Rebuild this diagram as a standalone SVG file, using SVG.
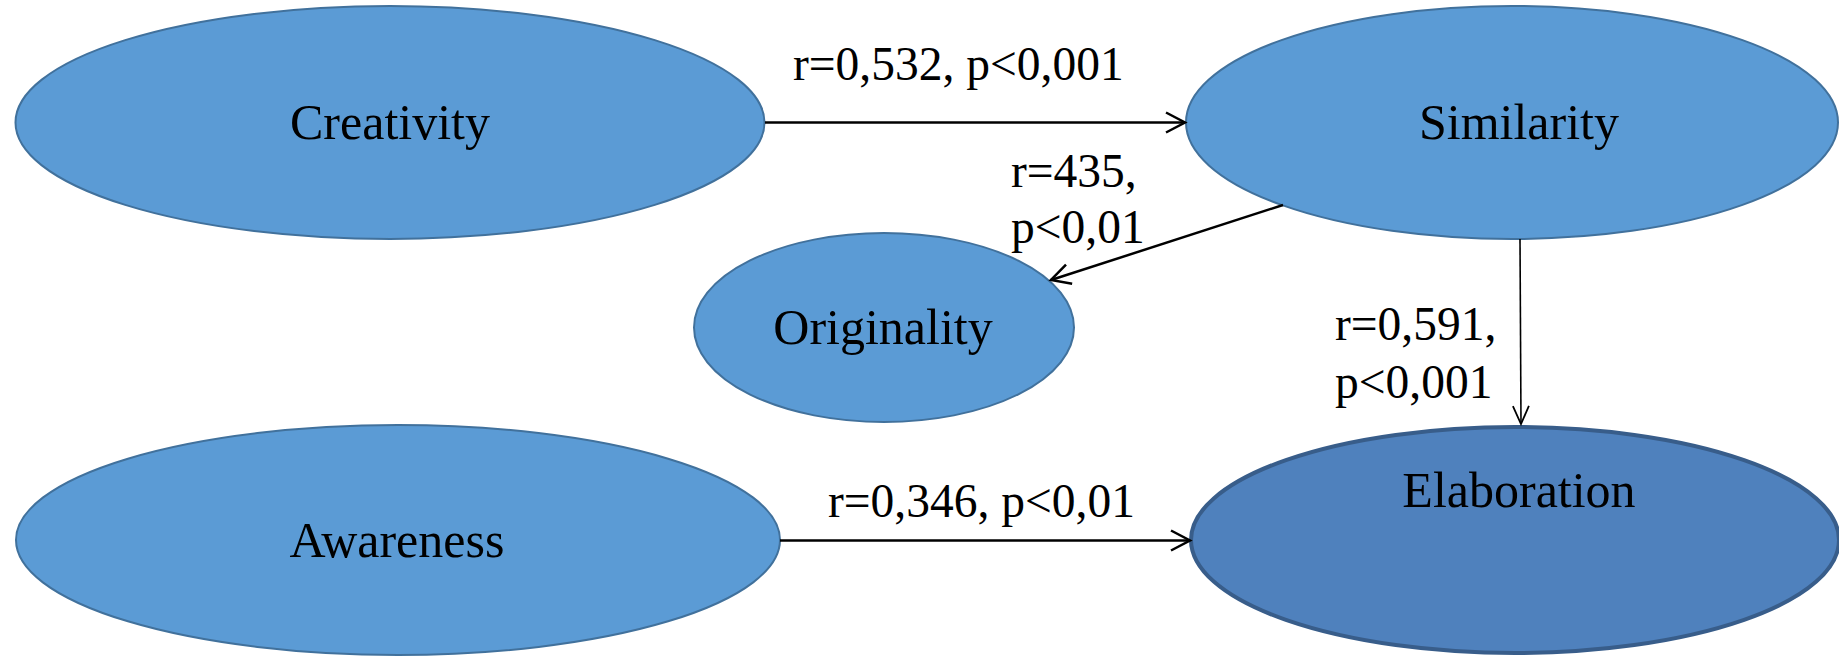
<svg xmlns="http://www.w3.org/2000/svg" width="1839" height="656" viewBox="0 0 1839 656">
<style>
.n{fill:#5b9bd5;stroke:#41719c;stroke-width:2}
.e{fill:#4f81bd;stroke:#385d8a;stroke-width:4}
text{font-family:"Liberation Serif","Times New Roman",serif;font-size:47.5px;fill:#000}
.c{text-anchor:middle;font-size:50px}
.l{fill:none;stroke:#000;stroke-width:2.5}
.t{fill:none;stroke:#000;stroke-width:1.6}
</style>
<defs>
<marker id="a" markerUnits="userSpaceOnUse" markerWidth="30" markerHeight="30" viewBox="-25 -15 30 30" refX="0" refY="0" orient="auto">
<path d="M-19,-10 L0,0 L-19,10" fill="none" stroke="#000" stroke-width="2.5"/>
</marker>
<marker id="b" markerUnits="userSpaceOnUse" markerWidth="30" markerHeight="30" viewBox="-25 -15 30 30" refX="0" refY="0" orient="auto">
<path d="M-18,-8 L0,0 L-18,8" fill="none" stroke="#000" stroke-width="1.8"/>
</marker>
</defs>
<g id="creativity"><ellipse class="n" cx="390" cy="122.5" rx="374.5" ry="116.5"/><text class="c" x="390" y="139">Creativity</text></g>
<g id="similarity"><ellipse class="n" cx="1512" cy="122.5" rx="326" ry="116.5"/><text class="c" x="1519" y="139">Similarity</text></g>
<g id="originality"><ellipse class="n" cx="884" cy="327.5" rx="190" ry="94.5"/><text class="c" x="883" y="344">Originality</text></g>
<g id="awareness"><ellipse class="n" cx="398" cy="540" rx="382" ry="115"/><text class="c" x="397" y="557">Awareness</text></g>
<g id="elaboration"><ellipse class="e" cx="1515" cy="540" rx="324" ry="113"/><text class="c" x="1519" y="507">Elaboration</text></g>
<g id="connectors">
<line class="l" x1="765" y1="122.5" x2="1185" y2="122.5" marker-end="url(#a)"/>
<line class="l" x1="1283" y1="205" x2="1051" y2="280" marker-end="url(#a)"/>
<line class="t" x1="1520" y1="239" x2="1521" y2="424" marker-end="url(#b)"/>
<line class="l" x1="780" y1="540.5" x2="1190" y2="540.5" marker-end="url(#a)"/>
<text x="793" y="80">r=0,532, p&lt;0,001</text>
<text x="1011" y="187">r=435,</text>
<text x="1011" y="243">p&lt;0,01</text>
<text x="1335" y="340">r=0,591,</text>
<text x="1335" y="398">p&lt;0,001</text>
<text x="828" y="517">r=0,346, p&lt;0,01</text>
</g>
</svg>
